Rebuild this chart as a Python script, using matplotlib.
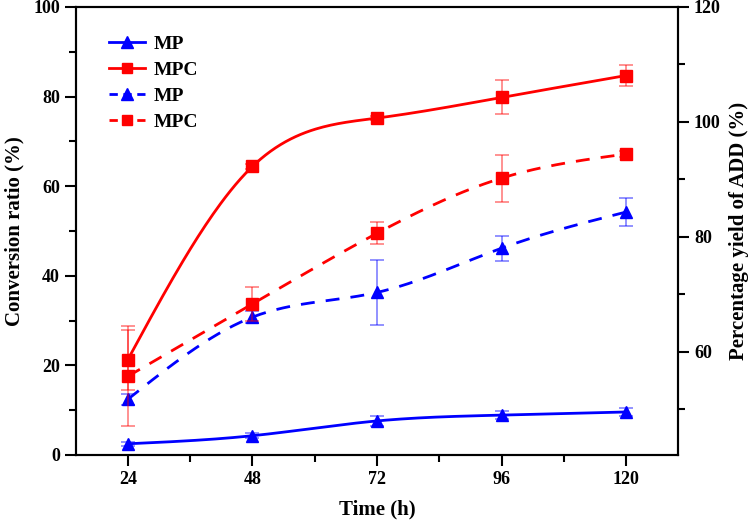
import numpy as np
import matplotlib as mpl
mpl.use('Agg')
import matplotlib.pyplot as plt
from matplotlib.ticker import MultipleLocator, FixedLocator
from matplotlib.lines import Line2D

# data
time_h = [24, 48, 72, 96, 120]

# conversion ratio (left axis, solid lines)
mp_conv = [2.5, 4.3, 7.6, 8.9, 9.6]
mp_conv_err = [0.5, 0.6, 1.1, 0.9, 0.8]
mpc_conv = [21.3, 64.4, 75.2, 79.8, 84.7]
mpc_conv_err = [6.7, 0.5, 0.5, 3.8, 2.4]

# percentage yield of ADD (right axis, dashed lines)
mp_yield = [51.7, 66.0, 70.3, 78.0, 84.3]
mp_yield_err = [1.0, 1.0, 5.7, 2.2, 2.5]
mpc_yield = [55.7, 68.3, 80.6, 90.2, 94.4]
mpc_yield_err = [8.7, 3.0, 1.9, 4.1, 0.5]


def spline(x, y, n=200):
    # natural cubic spline, only used to draw the smooth line
    x = np.asarray(x, float)
    y = np.asarray(y, float)
    k = len(x)
    h = np.diff(x)
    A = np.zeros((k, k))
    b = np.zeros(k)
    A[0, 0] = A[-1, -1] = 1
    for i in range(1, k - 1):
        A[i, i - 1] = h[i - 1]
        A[i, i] = 2 * (h[i - 1] + h[i])
        A[i, i + 1] = h[i]
        b[i] = 3 * ((y[i + 1] - y[i]) / h[i] - (y[i] - y[i - 1]) / h[i - 1])
    c = np.linalg.solve(A, b)
    xs = np.linspace(x[0], x[-1], n)
    ys = np.empty_like(xs)
    for j, xv in enumerate(xs):
        i = min(np.searchsorted(x, xv, side='right') - 1, k - 2)
        bi = (y[i + 1] - y[i]) / h[i] - h[i] * (2 * c[i] + c[i + 1]) / 3
        di = (c[i + 1] - c[i]) / (3 * h[i])
        dx = xv - x[i]
        ys[j] = y[i] + bi * dx + c[i] * dx ** 2 + di * dx ** 3
    return xs, ys


plt.rcParams['font.family'] = 'Liberation Serif'
plt.rcParams['font.weight'] = 'bold'

fig = plt.figure(figsize=(7.5, 5.24), dpi=100)
ax = fig.add_axes([0.1013, 0.1317, 0.8027, 0.855])
ax2 = ax.twinx()

dash = (0, (5, 4))
ms = 8
lw = 2


def draw(a, x, y, err, color, marker, ls):
    xs, ys = spline(x, y)
    a.plot(xs, ys, color=color, lw=lw, linestyle=ls)
    a.errorbar(x, y, yerr=err, fmt='none', ecolor=color, alpha=0.5,
               elinewidth=1.2, capsize=5, capthick=1.2)
    a.plot(x, y, linestyle='none', marker=marker, color=color, ms=ms)


draw(ax, time_h, mp_conv, mp_conv_err, 'blue', '^', '-')
draw(ax, time_h, mpc_conv, mpc_conv_err, 'red', 's', '-')
draw(ax2, time_h, mp_yield, mp_yield_err, 'blue', '^', dash)
draw(ax2, time_h, mpc_yield, mpc_yield_err, 'red', 's', dash)

ax.set_xlim(14, 130)
ax.set_ylim(0, 100)
ax2.set_ylim(42, 120)

ax.xaxis.set_major_locator(FixedLocator(time_h))
ax.xaxis.set_minor_locator(FixedLocator([36, 60, 84, 108]))
ax.yaxis.set_major_locator(MultipleLocator(20))
ax.yaxis.set_minor_locator(MultipleLocator(10))
ax2.yaxis.set_major_locator(FixedLocator([60, 80, 100, 120]))
ax2.yaxis.set_minor_locator(FixedLocator([50, 70, 90, 110]))

for a in (ax, ax2):
    a.tick_params(which='major', direction='out', length=8, width=1.5, labelsize=13)
    a.tick_params(which='minor', direction='out', length=5, width=1.5)
    for s in a.spines.values():
        s.set_linewidth(1.5)

ax.set_xlabel('Time (h)', fontsize=15, fontweight='bold', labelpad=8)
ax.set_ylabel('Conversion ratio (%)', fontsize=15, fontweight='bold', labelpad=6)
ax2.set_ylabel('Percentage yield of ADD (%)', fontsize=15, fontweight='bold', labelpad=6)

handles = [
    Line2D([], [], color='blue', lw=lw, marker='^', ms=ms),
    Line2D([], [], color='red', lw=lw, marker='s', ms=ms - 1),
    Line2D([], [], color='blue', lw=lw, marker='^', ms=ms, linestyle=(0, (3, 2))),
    Line2D([], [], color='red', lw=lw, marker='s', ms=ms - 1, linestyle=(0, (3, 2))),
]
ax.legend(handles, ['MP', 'MPC', 'MP', 'MPC'], loc='upper left',
          bbox_to_anchor=(0.025, 0.975), frameon=False, handlelength=1.9,
          handletextpad=0.4, labelspacing=0.42,
          prop={'family': 'Liberation Serif', 'weight': 'bold', 'size': 14})

fig.savefig('out.png', dpi=100)
